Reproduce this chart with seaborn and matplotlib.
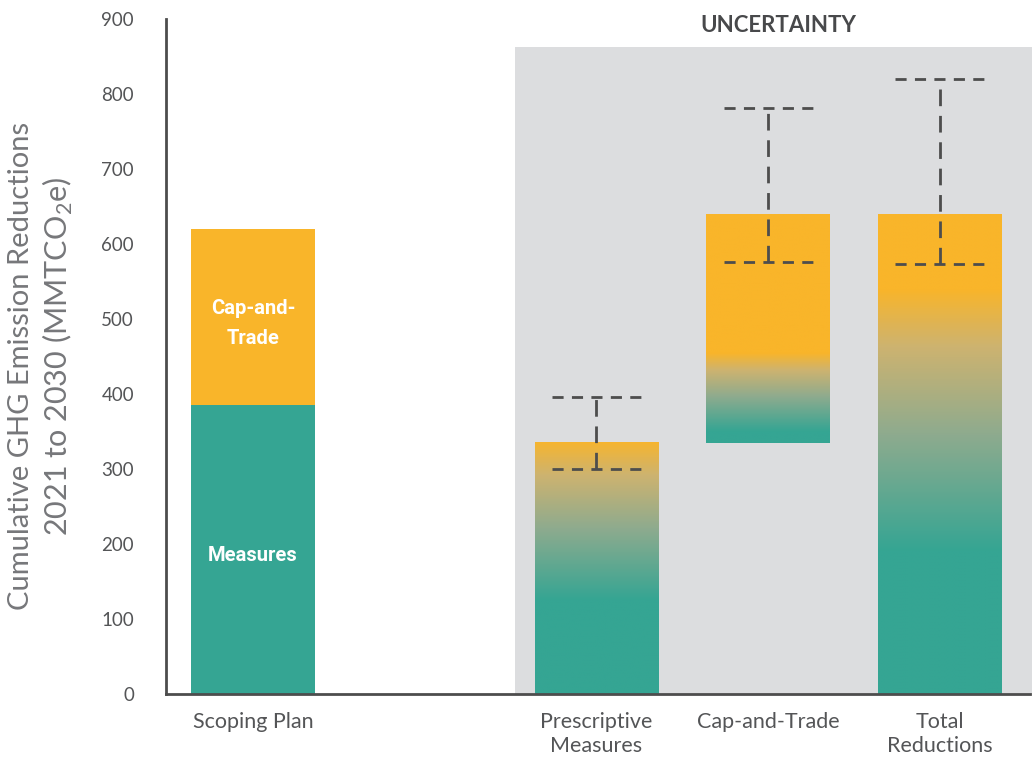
import numpy as np
import pandas as pd
import matplotlib
matplotlib.use("Agg")
import matplotlib.pyplot as plt
import seaborn as sns
from matplotlib.colors import LinearSegmentedColormap
from matplotlib.patches import Rectangle

# x slots (the second slot is an empty spacer)
categories = ["Scoping Plan", "spacer", "Prescriptive Measures", "Cap-and-Trade", "Total Reductions"]
tick_labels = ["Scoping Plan", "", "Prescriptive\nMeasures", "Cap-and-Trade", "Total\nReductions"]

# Scoping Plan stack (MMTCO2e)
scoping_measures = 385
scoping_cap_trade = 235

# uncertainty bars
unc_names = ["Prescriptive Measures", "Cap-and-Trade", "Total Reductions"]
unc_bottom = [0, 335, 0]
unc_top = [336, 640, 640]
# colour blend: teal below teal_until, orange above orange_from
teal_until = [125, 350, 190]
orange_from = [340, 455, 541]
# dashed uncertainty ranges
range_low = [300, 576, 573]
range_high = [396, 781, 820]

TEAL = "#35a593"
ORANGE = "#f9b52a"
GRAY = "#dcdddf"
AXIS = "#4d4d4d"
TEXT = "#545557"

blend = LinearSegmentedColormap.from_list(
    "blend", [(0, TEAL), (0.45, "#8fab8e"), (0.78, "#cdb370"), (1, ORANGE)])

sns.set_style("white")
plt.rcParams["font.family"] = ["Lato", "DejaVu Sans"]
plt.rcParams["mathtext.fontset"] = "custom"
plt.rcParams["mathtext.rm"] = "Lato"

fig = plt.figure(figsize=(10.32, 7.57), dpi=100)
ax = fig.add_axes([166 / 1032, 63 / 757, 864 / 1032, 675 / 757])

# grey "uncertainty" panel
ax.add_patch(Rectangle((1.523, 0), 3.1, 863, facecolor=GRAY, lw=0, zorder=0, clip_on=False))

scoping = pd.DataFrame({"category": ["Scoping Plan"],
                        "total": [scoping_measures + scoping_cap_trade],
                        "measures": [scoping_measures]})
sns.barplot(data=scoping, x="category", y="total", order=categories, color=ORANGE,
            saturation=1, width=0.72, linewidth=0, ax=ax)
sns.barplot(data=scoping, x="category", y="measures", order=categories, color=TEAL,
            saturation=1, width=0.72, linewidth=0, ax=ax)

unc = pd.DataFrame({"category": unc_names, "top": unc_top, "bottom": unc_bottom})
n_before = len(ax.patches)
sns.barplot(data=unc, x="category", y="top", order=categories, color=TEAL,
            saturation=1, width=0.72, linewidth=0, ax=ax)
unc_patches = ax.patches[n_before:]

for name, b, t, tu, of in zip(unc_names, unc_bottom, unc_top, teal_until, orange_from):
    i = categories.index(name)
    p = min(unc_patches, key=lambda r: abs(r.get_x() + r.get_width() / 2 - i))
    p.set_y(b)
    p.set_height(t - b)
    vals = np.linspace(b, t, 400)
    frac = np.clip((vals - tu) / (of - tu), 0, 1)
    img = blend(frac)[:, None, :3]
    im = ax.imshow(img, extent=(p.get_x(), p.get_x() + p.get_width(), b, t),
                   origin="lower", aspect="auto", interpolation="bilinear", zorder=2)
    im.set_clip_path(p)

for name, lo, hi in zip(unc_names, range_low, range_high):
    i = categories.index(name)
    ax.hlines([lo, hi], i - 0.26, i + 0.26, colors=AXIS, linestyles=(0, (4, 3)), lw=2, zorder=4)
    ax.vlines(i, lo, hi, colors=AXIS, linestyles=(0, (6, 3.5)), lw=2, zorder=4)

# labels inside the scoping plan bar
ax.text(0, 494, "Cap-and-\nTrade", ha="center", va="center",
        color="white", fontsize=14.5, fontweight="bold", family="Roboto", linespacing=1.75)
ax.text(0, 185, "Measures", ha="center", va="center", color="white",
        fontsize=14.5, fontweight="bold", family="Roboto")

ax.text(3.06, 892, "UNCERTAINTY", ha="center", va="center", color="#48494b",
        fontsize=16, fontweight="bold")

ax.set_xlim(-0.506, 4.524)
ax.set_ylim(0, 900)
ax.set_yticks(range(0, 901, 100))
ax.set_xticks(range(len(categories)))
ax.set_xticklabels(tick_labels, linespacing=1.25)
ax.set_xticks([0.5, 2.5, 3.5, 4.5], minor=True)
ax.tick_params(axis="x", which="major", length=0, pad=13, labelsize=15.5, labelcolor=TEXT)
ax.tick_params(axis="x", which="minor", direction="in", length=10, width=2, color="#222222")
ax.tick_params(axis="y", length=11, width=2, color=AXIS, pad=12, labelsize=13.5, labelcolor=TEXT)
ax.set_xlabel("")
ax.set_ylabel("")
sns.despine(ax=ax)
for s in ["left", "bottom"]:
    ax.spines[s].set_color(AXIS)
    ax.spines[s].set_linewidth(2)
    ax.spines[s].set_zorder(5)

fig.text(21 / 1032, 1 - 366 / 757, "Cumulative GHG Emission Reductions", rotation=90,
         ha="center", va="center", fontsize=21, color="#76777a")
fig.text(58 / 1032, 1 - 356 / 757, "2021 to 2030 (MMTCO$_2$e)", rotation=90,
         ha="center", va="center", fontsize=22, color="#76777a")

fig.savefig("out.png", dpi=100)
